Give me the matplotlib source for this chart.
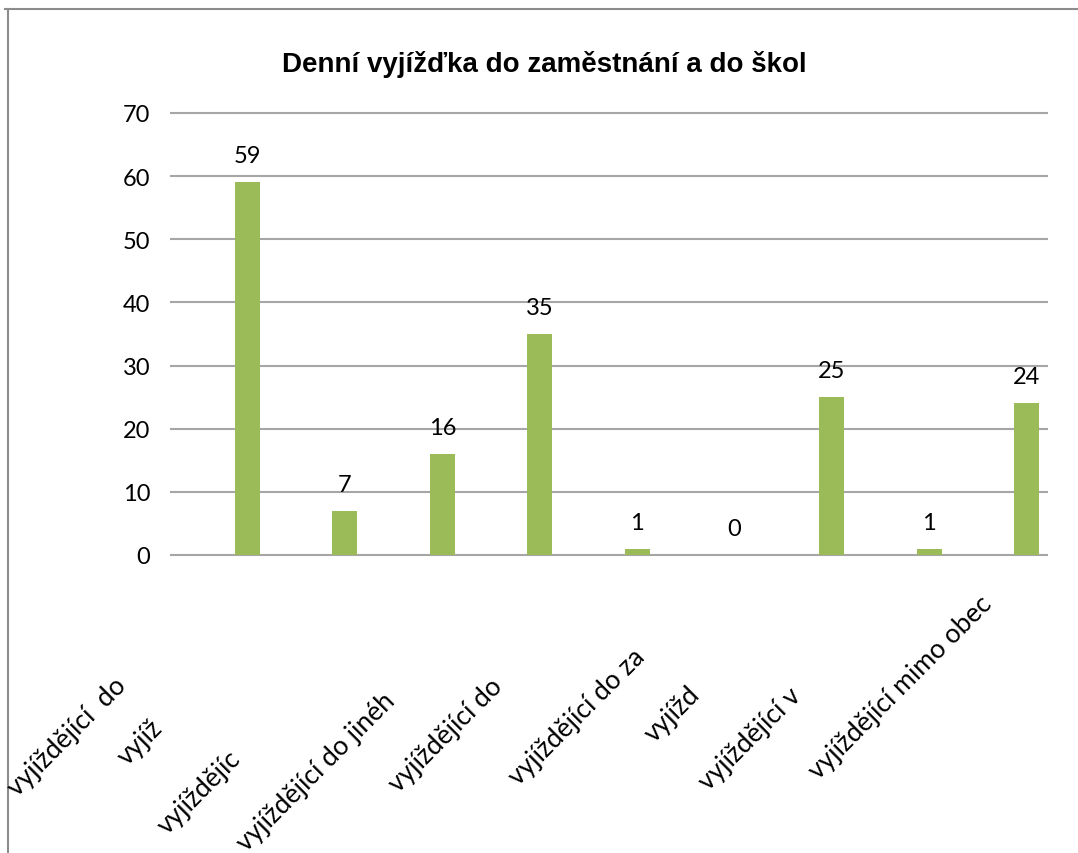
import matplotlib
matplotlib.use("Agg")
import matplotlib.pyplot as plt
from matplotlib.lines import Line2D
from matplotlib import font_manager

# visible (truncated) category labels as shown in the reference
categories = [
    "vyjíždějící  do",
    "vyjíž",
    "vyjíždějíc",
    "vyjíždějící do jinéh",
    "vyjíždějící do",
    "vyjíždějící do za",
    "vyjížd",
    "vyjíždějící v",
    "vyjíždějící mimo obec",
]
values = [59, 7, 16, 35, 1, 0, 25, 1, 24]
yticks = [0, 10, 20, 30, 40, 50, 60, 70]
title = "Denní vyjížďka do zaměstnání a do škol"

# layout (pixels): label start points (baseline-left)
label_start = [(17, 797), (127, 766), (167, 835), (246, 852), (398, 793),
               (518, 786), (654, 743), (708, 791), (818, 780)]

W, H = 1078, 854
fig = plt.figure(figsize=(W / 100, H / 100), dpi=100)

names = {f.name for f in font_manager.fontManager.ttflist}
tfam = "Liberation Sans Narrow" if "Liberation Sans Narrow" in names else "Liberation Sans"
lfam = "Lato"

ax_l, ax_r, ax_t, ax_b = 171, 1047, 114, 556
ax = fig.add_axes([ax_l / W, 1 - ax_b / H, (ax_r - ax_l) / W, (ax_b - ax_t) / H])

x = list(range(len(values)))
ax.bar(x, values, width=0.256, color="#9BBB59", zorder=2)
step = 97.4
x0 = 247.5
ax.set_xlim((ax_l - x0) / step, (ax_r - x0) / step)
ax.set_ylim(0, 70)
ax.set_yticks(yticks)
ax.set_yticklabels([str(t) for t in yticks], fontfamily=lfam, fontsize=17)
ax.tick_params(axis="y", length=0, pad=15)
ax.set_xticks([])
for s in ax.spines.values():
    s.set_visible(False)
ax.yaxis.grid(True, color="#A6A6A6", linewidth=1.5, zorder=0)
for gl in ax.get_ygridlines():
    gl.set_clip_on(False)
ax.set_axisbelow(True)

for xi, v in zip(x, values):
    ax.annotate(str(v), (xi, v), xytext=(0, 14.5), textcoords="offset points",
                ha="center", va="baseline", fontfamily=lfam, fontsize=17)

fig.text(544 / W, 1 - 64 / H, title, ha="center", va="center",
         fontfamily=tfam, fontweight="bold", fontsize=20)

for lab, (sx, sy) in zip(categories, label_start):
    fig.text(sx / W, 1 - sy / H, lab, rotation=45, rotation_mode="anchor",
             ha="left", va="baseline", fontfamily=lfam, fontsize=19)

# outer chart frame
fig.add_artist(Line2D([5 / W, 1], [1 - 10 / H, 1 - 10 / H], color="#8C8C8C", linewidth=1.5))
fig.add_artist(Line2D([8 / W, 8 / W], [1 - 10 / H, 0], color="#8C8C8C", linewidth=1.5))

fig.savefig("out.png", dpi=100)
